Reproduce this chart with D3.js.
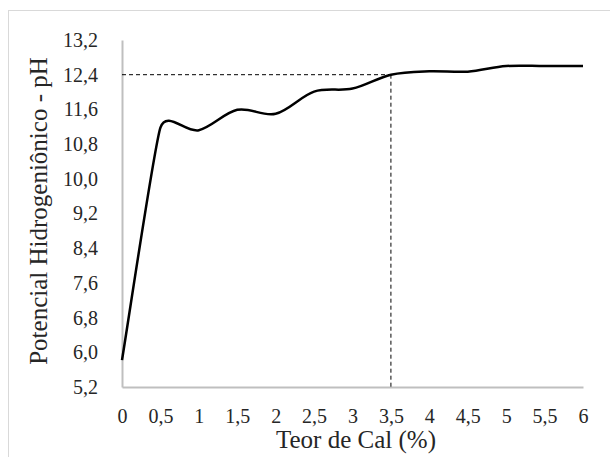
<!doctype html>
<html lang="pt">
  <head>
    <meta charset="utf-8">
    <title>pH x Teor de Cal</title>
    <script src="https://d3js.org/d3.v7.min.js"></script>
    <style>
      body { margin: 0; background: #fff; }
      svg text { font-family: 'Liberation Serif', 'Times New Roman', Times, serif; fill: #262626; }
    </style>
  </head>
  <body>
    <div class="chart"></div>
    <script>
      // data
      const teorCal = [0, 0.5, 1, 1.5, 2, 2.5, 3, 3.5, 4, 4.5, 5, 5.5, 6];
      const pH = [5.82, 11.18, 11.12, 11.59, 11.5, 12.01, 12.08, 12.4, 12.48, 12.47, 12.6, 12.6, 12.6];
      const xTicks = [0, 0.5, 1, 1.5, 2, 2.5, 3, 3.5, 4, 4.5, 5, 5.5, 6];
      const yTicks = [5.2, 6.0, 6.8, 7.6, 8.4, 9.2, 10.0, 10.8, 11.6, 12.4, 13.2];
      const refPoint = [3.5, 12.4];

      const w = 610;
      const h = 457;
      const margin = {left: 122, right: 27, top: 40, bottom: 70};

      // smooth line like the spreadsheet one: bezier, control arm capped at half the shorter chord
      function curveSmooth(context) {
        let pts;
        return {
          areaStart() {}, areaEnd() {},
          lineStart() { pts = []; },
          point(x, y) { pts.push([+x, +y]); },
          lineEnd() {
            const n = pts.length;
            if (!n) return;
            const off = pts.map((p, i) => {
              const a = pts[Math.max(i - 1, 0)];
              const b = pts[Math.min(i + 1, n - 1)];
              const dx = b[0] - a[0], dy = b[1] - a[1];
              const d02 = Math.hypot(dx, dy);
              const d01 = Math.hypot(p[0] - a[0], p[1] - a[1]) || Infinity;
              const d12 = Math.hypot(b[0] - p[0], b[1] - p[1]) || Infinity;
              let f = 1 / 6;
              const m = Math.min(d01, d12) / 2;
              if (d02 * f > m) f = m / d02;
              return [dx * f, dy * f];
            });
            context.moveTo(pts[0][0], pts[0][1]);
            for (let i = 1; i < n; i++) {
              context.bezierCurveTo(
                pts[i - 1][0] + off[i - 1][0], pts[i - 1][1] + off[i - 1][1],
                pts[i][0] - off[i][0], pts[i][1] - off[i][1],
                pts[i][0], pts[i][1])
            }
          }
        }
      }

      const svg = d3.select('.chart')
        .append('svg')
        .attr('width', w)
        .attr('height', h)

      // outer frame (cut off at right and bottom in the original)
      svg.append('rect')
        .attr('x', 8.5)
        .attr('y', 10.5)
        .attr('width', w + 20)
        .attr('height', h + 20)
        .attr('fill', 'none')
        .attr('stroke', '#d9d9d9')
        .attr('stroke-width', 1)

      const xScale = d3.scaleLinear()
        .domain([0, 6])
        .range([margin.left, w - margin.right])

      const yScale = d3.scaleLinear()
        .domain([5.2, 13.2])
        .range([h - margin.bottom, margin.top])

      const fmt = d => d3.format('.1f')(d).replace('.', ',')
      const fmtX = d => String(d).replace('.', ',')

      // Axes
      const xAxis = d3.axisBottom(xScale).tickValues(xTicks).tickSize(0).tickPadding(22).tickFormat(fmtX)
      const yAxis = d3.axisLeft(yScale).tickValues(yTicks).tickSize(0).tickPadding(24).tickFormat(fmt)

      svg.append('g')
        .attr('transform', 'translate(0,' + (h - margin.bottom) + ')')
        .call(xAxis)
      svg.append('g')
        .attr('transform', 'translate(' + margin.left + ',0)')
        .call(yAxis)

      svg.selectAll('g').attr('font-family', null)
      svg.selectAll('.domain')
        .attr('stroke', '#bfbfbf')
        .attr('stroke-width', 2)
      svg.selectAll('.tick text')
        .attr('font-size', 20)
        .attr('fill', '#262626')

      // reference dashed lines
      svg.append('line')
        .attr('x1', xScale(0))
        .attr('x2', xScale(refPoint[0]))
        .attr('y1', yScale(refPoint[1]))
        .attr('y2', yScale(refPoint[1]))
        .attr('stroke', '#000')
        .attr('stroke-width', 1)
        .attr('stroke-dasharray', '4,3')
      svg.append('line')
        .attr('x1', xScale(refPoint[0]))
        .attr('x2', xScale(refPoint[0]))
        .attr('y1', yScale(refPoint[1]))
        .attr('y2', yScale(5.2))
        .attr('stroke', '#000')
        .attr('stroke-width', 1)
        .attr('stroke-dasharray', '4,3')

      // smoothed curve
      const line = d3.line()
        .x((d, i) => xScale(teorCal[i]))
        .y(d => yScale(d))
        .curve(curveSmooth)

      svg.append('path')
        .datum(pH)
        .attr('d', line)
        .attr('fill', 'none')
        .attr('stroke', '#000')
        .attr('stroke-width', 2.5)

      // Axis titles
      svg.append('text')
        .attr('x', 356)
        .attr('y', 448)
        .attr('text-anchor', 'middle')
        .attr('font-size', 25)
        .text('Teor de Cal (%)')

      svg.append('text')
        .attr('transform', 'translate(47,211) rotate(-90)')
        .attr('text-anchor', 'middle')
        .attr('font-size', 25)
        .text('Potencial Hidrogeniônico - pH')
    </script>
  </body>
</html>
